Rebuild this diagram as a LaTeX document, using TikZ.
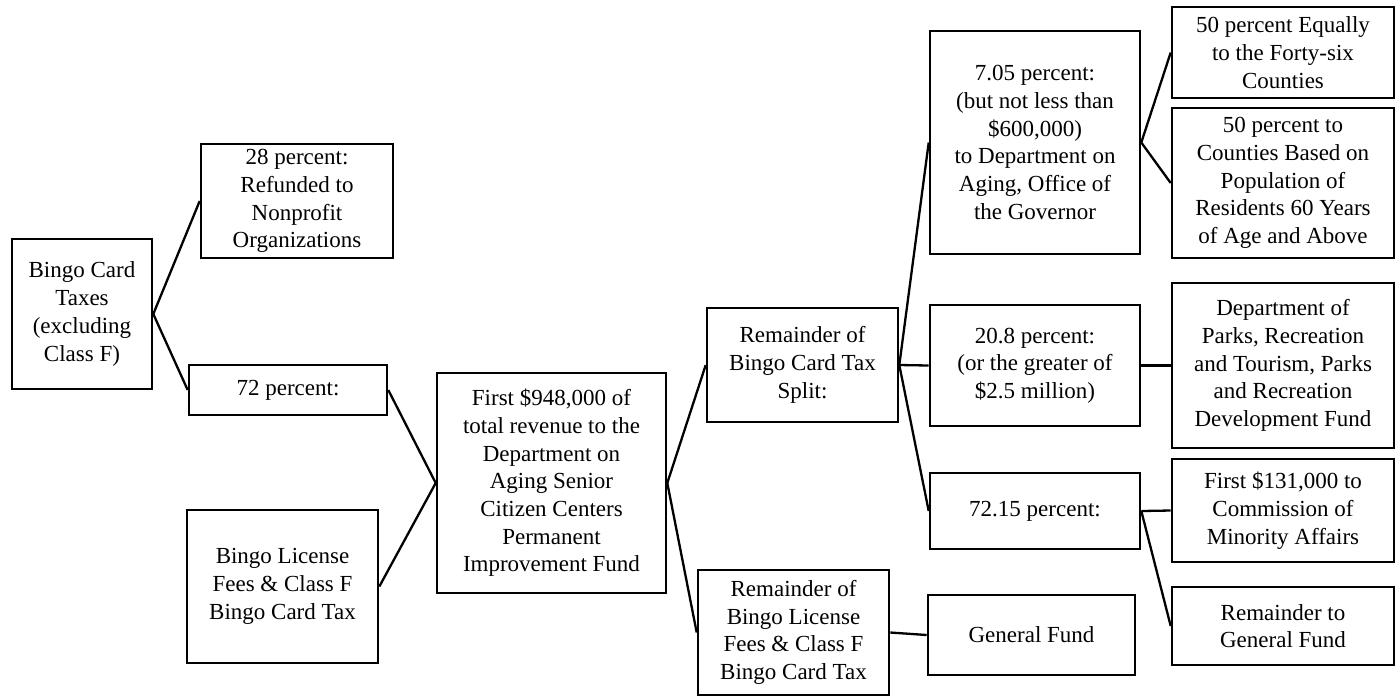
\documentclass[tikz,border=0pt]{standalone}
\usepackage{fontspec}
\setmainfont{Liberation Serif}
\usetikzlibrary{positioning}
\tikzset{
    fund_box/.style={rectangle, draw=black, line width=1.3pt, inner sep=0pt, text centered, align=center, font=\fontsize{11.5}{13.85}\selectfont},
    line/.style={line width=1.15pt},
}

\begin{document}
\begin{tikzpicture}[x=0.5pt, y=-0.5pt]
      \useasboundingbox (0,0) rectangle (1397,698);
      %%%%%%%%%%%%%%%%%
      % Sources       %
      %%%%%%%%%%%%%%%%%
      \node (taxes) [fund_box, minimum width=70pt, minimum height=75pt] at (82,314)
          {Bingo Card\\Taxes\\(excluding\\Class F)};
      \node (refund) [fund_box, minimum width=96pt, minimum height=57pt] at (297,201)
          {28 percent:\\Refunded to\\Nonprofit\\Organizations};
      \node (pct72) [fund_box, minimum width=99pt, minimum height=25pt] at (288,390)
          {72 percent:};
      \node (license) [fund_box, minimum width=95.5pt, minimum height=76.5pt] at (282.5,586.5)
          {Bingo License\\Fees \& Class F\\Bingo Card Tax};
      \node (first) [fund_box, minimum width=114.5pt, minimum height=110pt] at (551.5,483)
          {First \$948,000 of\\total revenue to the\\Department on\\Aging Senior\\Citizen Centers\\Permanent\\Improvement Fund};

      %%%%%%%%%%%%%%%%%
      % Remainders    %
      %%%%%%%%%%%%%%%%%
      \node (split) [fund_box, minimum width=95.5pt, minimum height=57pt] at (802.5,365)
          {Remainder of\\Bingo Card Tax\\Split:};
      \node (remlicense) [fund_box, minimum width=95.5pt, minimum height=62.5pt] at (793.5,632.5)
          {Remainder of\\Bingo License\\Fees \& Class F\\Bingo Card Tax};
      \node (genfund) [fund_box, minimum width=103.5pt, minimum height=40pt] at (1031.5,635)
          {General Fund};

      %%%%%%%%%%%%%%%%%
      % Split         %
      %%%%%%%%%%%%%%%%%
      \node (pct705) [fund_box, minimum width=105pt, minimum height=111.5pt] at (1035,142.5)
          {7.05 percent:\\(but not less than\\\$600,000)\\to Department on\\Aging, Office of\\the Governor};
      \node (pct208) [fund_box, minimum width=105pt, minimum height=60.5pt] at (1035,365.5)
          {20.8 percent:\\(or the greater of\\\$2.5 million)};
      \node (pct7215) [fund_box, minimum width=105pt, minimum height=38pt] at (1035,511)
          {72.15 percent:};

      \node (equal) [fund_box, minimum width=111pt, minimum height=45.5pt] at (1283,52.5)
          {50 percent Equally\\to the Forty-six\\Counties};
      \node (counties) [fund_box, minimum width=111pt, minimum height=75pt] at (1283,183)
          {50 percent to\\Counties Based on\\Population of\\Residents 60 Years\\of Age and Above};
      \node (parks) [fund_box, minimum width=111pt, minimum height=82.5pt] at (1283,365.5)
          {Department of\\Parks, Recreation\\and Tourism, Parks\\and Recreation\\Development Fund};
      \node (minority) [fund_box, minimum width=111pt, minimum height=51.5pt] at (1283,510.5)
          {First \$131,000 to\\Commission of\\Minority Affairs};
      \node (remgen) [fund_box, minimum width=111pt, minimum height=39pt] at (1283,626)
          {Remainder to\\General Fund};

      \draw [line] (taxes.east) -- (refund.west);
      \draw [line] (taxes.east) -- (pct72.west);
      \draw [line] (pct72.east) -- (first.west);
      \draw [line] (license.east) -- (first.west);
      \draw [line] (first.east) -- (split.west);
      \draw [line] (first.east) -- (remlicense.west);
      \draw [line] (remlicense.east) -- (genfund.west);
      \draw [line] (split.east) -- (pct705.west);
      \draw [line] (split.east) -- (pct208.west);
      \draw [line] (split.east) -- (pct7215.west);
      \draw [line] (pct705.east) -- (equal.west);
      \draw [line] (pct705.east) -- (counties.west);
      \draw [line] (pct208.east) -- (parks.west);
      \draw [line] (pct7215.east) -- (minority.west);
      \draw [line] (pct7215.east) -- (remgen.west);

    \end{tikzpicture}
\end{document}
